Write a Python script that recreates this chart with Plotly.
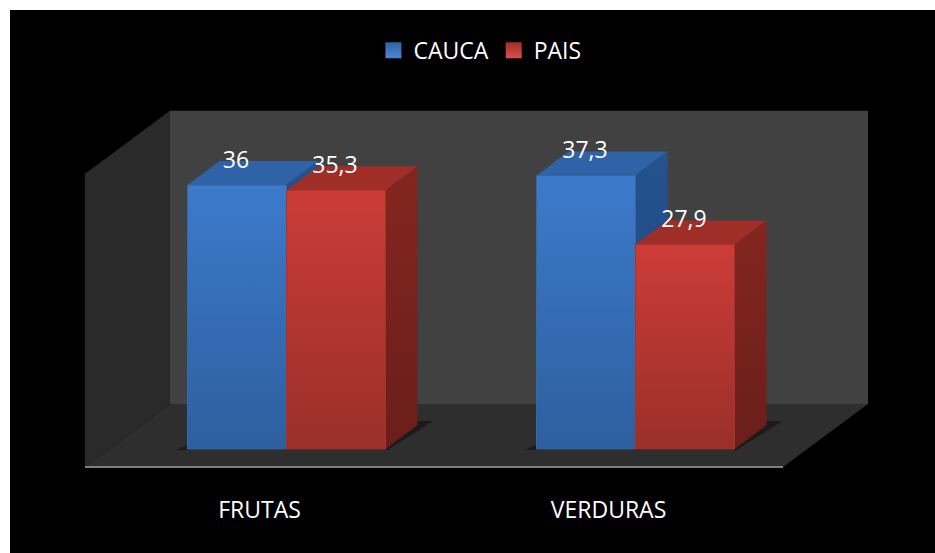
import plotly.graph_objects as go

categories = ["FRUTAS", "VERDURAS"]
cauca = [36, 37.3]
pais = [35.3, 27.9]

# pixels per axis unit, the chart is a flat projection of a 3d box
X_PX = 349
Y_PX = 7.33
WALL = 40


def px_x(p):
    return p / X_PX


def px_y(p):
    return p / Y_PX


def poly(x, y, color=None, gradient=None, line=None):
    tr = dict(x=x + x[:1], y=y + y[:1], mode="lines", fill="toself", showlegend=False,
              hoverinfo="skip", line=dict(width=1 if line else 0, color=line or "rgba(0,0,0,0)"))
    if gradient:
        tr["fillgradient"] = dict(type="vertical", colorscale=[[0, gradient[0]], [1, gradient[1]]])
    else:
        tr["fillcolor"] = color
    return go.Scatter(**tr)


def draw_bar(fig, x0, value, front, top, side, edge):
    base_x = x0 + px_x(27)
    base_y = px_y(18)
    w = px_x(99)
    dx = px_x(32)
    dy = px_y(24)
    left, right = base_x, base_x + w
    y0, y1 = base_y, base_y + value
    # top face
    fig.add_trace(poly([left, right, right + dx, left + dx], [y1, y1, y1 + dy, y1 + dy], color=top))
    # side face
    fig.add_trace(poly([right, right + dx, right + dx, right], [y0, y0 + dy, y1 + dy, y1], gradient=side))
    # front face
    fig.add_trace(poly([left, right, right, left], [y0, y0, y1, y1], gradient=front, line=edge))


fig = go.Figure()

# box walls and floor
depth_x = px_x(85)
depth_y = px_y(63)
x_lo, x_hi = -0.5, 1.5
fig.add_trace(poly([x_lo + depth_x, x_hi + depth_x, x_hi + depth_x, x_lo + depth_x],
                   [depth_y, depth_y, depth_y + WALL, depth_y + WALL], color="#414141"))
fig.add_trace(poly([x_lo, x_lo + depth_x, x_lo + depth_x, x_lo],
                   [0, depth_y, depth_y + WALL, WALL], color="#2a2a2a"))
fig.add_trace(poly([x_lo, x_hi, x_hi + depth_x, x_lo + depth_x],
                   [0, 0, depth_y, depth_y], color="#2e2e2e"))
fig.add_trace(go.Scatter(x=[x_lo, x_hi], y=[0, 0], mode="lines", showlegend=False, hoverinfo="skip",
                         line=dict(color="#808080", width=2)))

for i in range(len(categories)):
    # soft shadow under each bar group
    sx = i - px_x(84)
    sy = px_y(17)
    fig.add_trace(poly([sx, sx + px_x(212), sx + px_x(258), sx + px_x(242), sx + px_x(212), sx + px_x(12)],
                       [sy, sy, sy + px_y(29), sy + px_y(29), sy + px_y(5), sy + px_y(5)],
                       color="rgba(0,0,0,0.4)"))
    draw_bar(fig, i - px_x(99), cauca[i], ("#2d5f9e", "#3c7acb"), "#2f62a6", ("#1f477c", "#24528f"), "#35699f")
    draw_bar(fig, i, pais[i], ("#9a2f2a", "#cc3c38"), "#9f2e29", ("#6a1e1a", "#84261f"), "#a8332d")

# value labels, sitting over the top face of each bar
label_x = []
label_y = []
label_text = []
for i in range(len(categories)):
    for off, v in ((-0.5, cauca[i]), (0.5, pais[i])):
        label_x.append(i + px_x(26) + off * px_x(99))
        label_y.append(px_y(18) + v + px_y(23))
        label_text.append(f"{v:g}".replace(".", ","))
fig.add_trace(go.Scatter(x=label_x, y=label_y, text=label_text, mode="text", showlegend=False,
                         hoverinfo="skip", textposition="middle center",
                         textfont=dict(color="white", size=23, family="Open Sans")))

# legend entries
fig.add_trace(go.Scatter(x=[None], y=[None], mode="markers", name="CAUCA",
                         marker=dict(symbol="square", size=16, color="#2f62a6",
                                     gradient=dict(type="vertical", color="#4a86d6"))))
fig.add_trace(go.Scatter(x=[None], y=[None], mode="markers", name="PAIS",
                         marker=dict(symbol="square", size=16, color="#9f2e29",
                                     gradient=dict(type="vertical", color="#d9504c"))))

fig.update_layout(
    width=935, height=553, autosize=False,
    margin=dict(l=10, r=0, t=10, b=0),
    paper_bgcolor="white", plot_bgcolor="black",
    font=dict(family="Open Sans", color="white", size=23),
    legend=dict(orientation="h", x=0.508, xanchor="center", y=0.926, yanchor="middle",
                font=dict(size=23, color="white"), bgcolor="rgba(0,0,0,0)"),
    xaxis=dict(range=[(10 - 259.5) / X_PX, (935 - 259.5) / X_PX], tickvals=[0, 1], ticktext=categories,
               showgrid=False, zeroline=False, showline=False, anchor="free", position=86 / 543,
               ticks="outside", ticklen=22, tickcolor="rgba(0,0,0,0)", fixedrange=True),
    yaxis=dict(range=[-86 / Y_PX, 457 / Y_PX], visible=False, showgrid=False, zeroline=False, fixedrange=True),
)

# the default page margin would push the figure off the window
fig.write_html("out.html", config=dict(displayModeBar=False),
               post_script="document.body.style.margin = '0';")
